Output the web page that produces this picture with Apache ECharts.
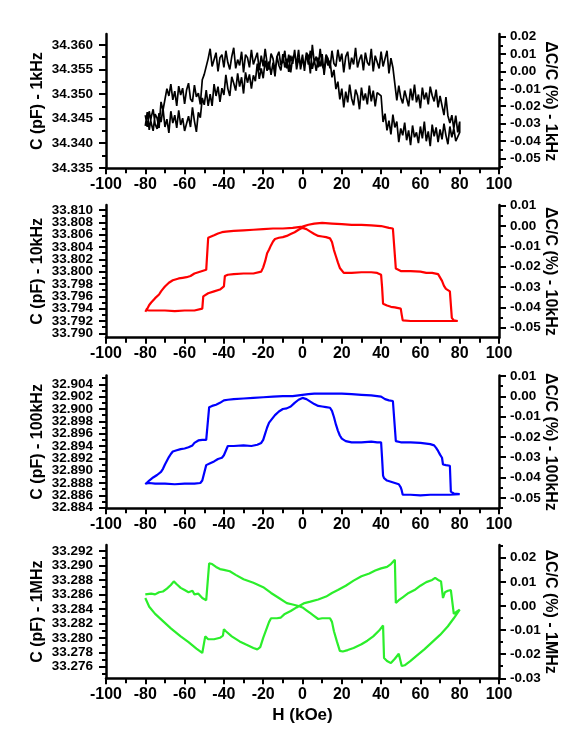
<!DOCTYPE html>
<html><head><meta charset="utf-8">
<script src="https://cdn.jsdelivr.net/npm/echarts@6/dist/echarts.min.js"></script>
<style>html,body{margin:0;padding:0;background:#fff}#c{width:568px;height:734px}</style>
</head><body><div id="c"></div>
<script>
// ---------------- DATA ----------------
const hBlack = [-80,-79,-78,-77,-76,-75,-74,-73,-72,-71,-70,-69,-68,-67,-66,-65,-64,-63,-62,-61,-60,-59,-58,-57,-56,-55,-54,-53,-52,-51,-50,-49,-48,-47,-46,-45,-44,-43,-42,-41,-40,-39,-38,-37,-36,-35,-34,-33,-32,-31,-30,-29,-28,-27,-26,-25,-24,-23,-22,-21,-20,-19,-18,-17,-16,-15,-14,-13,-12,-11,-10,-9,-8,-7,-6,-5,-4,-3,-2,-1,0,1,2,3,4,5,6,7,8,9,10,11,12,13,14,15,16,17,18,19,20,21,22,23,24,25,26,27,28,29,30,31,32,33,34,35,36,37,38,39,40,41,42,43,44,45,46,47,48,49,50,51,52,53,54,55,56,57,58,59,60,61,62,63,64,65,66,67,68,69,70,71,72,73,74,75,76,77,78,79,80];
const cBlackOuter = [34.3457,34.3433,34.3465,34.3441,34.3425,34.3459,34.3451,34.3431,34.3484,34.3467,
34.3470,34.3511,34.3496,34.3520,34.3488,34.3506,34.3476,34.3516,34.3498,34.3512,
34.3480,34.3508,34.3522,34.3490,34.3484,34.3518,34.3494,34.3502,34.3479,34.3529,
34.3540,34.3542,34.3572,34.3592,34.3556,34.3560,34.3584,34.3546,34.3574,34.3580,
34.3554,34.3588,34.3564,34.3550,34.3576,34.3594,34.3552,34.3570,34.3558,34.3586,
34.3544,34.3580,34.3574,34.3554,34.3590,34.3560,34.3564,34.3584,34.3548,34.3578,
34.3556,34.3592,34.3562,34.3550,34.3582,34.3572,34.3546,34.3576,34.3586,34.3558,
34.3566,34.3588,34.3552,34.3580,34.3544,34.3574,34.3582,34.3560,34.3590,34.3550,
34.3572,34.3556,34.3584,34.3578,34.3542,34.3600,34.3564,34.3576,34.3554,34.3592,
34.3558,34.3548,34.3580,34.3572,34.3552,34.3588,34.3562,34.3556,34.3590,34.3566,
34.3582,34.3544,34.3576,34.3586,34.3550,34.3574,34.3560,34.3594,34.3554,34.3570,
34.3580,34.3548,34.3584,34.3564,34.3558,34.3592,34.3546,34.3578,34.3574,34.3552,
34.3586,34.3556,34.3572,34.3588,34.3542,34.3573,34.3554,34.3554,34.3487,34.3517,
34.3493,34.3481,34.3507,34.3505,34.3475,34.3511,34.3487,34.3519,34.3483,34.3499,
34.3471,34.3513,34.3489,34.3503,34.3479,34.3515,34.3497,34.3485,34.3509,34.3473,
34.3496,34.3497,34.3457,34.3494,34.3456,34.3441,34.3457,34.3430,34.3456,34.3422,
34.3444];
const cBlackInner = [34.3435,34.3463,34.3427,34.3453,34.3469,34.3439,34.3429,34.3461,34.3443,34.3471,
34.3433,34.3449,34.3421,34.3465,34.3441,34.3457,34.3431,34.3467,34.3437,34.3451,
34.3425,34.3459,34.3455,34.3433,34.3473,34.3445,34.3423,34.3463,34.3452,34.3492,
34.3478,34.3508,34.3476,34.3500,34.3476,34.3520,34.3496,34.3515,34.3484,34.3512,
34.3498,34.3539,34.3511,34.3496,34.3535,34.3522,34.3507,34.3542,34.3515,34.3534,
34.3501,34.3544,34.3523,34.3540,34.3511,34.3538,34.3526,34.3562,34.3531,34.3552,
34.3532,34.3568,34.3547,34.3566,34.3539,34.3564,34.3536,34.3577,34.3558,34.3548,
34.3581,34.3554,34.3572,34.3545,34.3578,34.3561,34.3590,34.3550,34.3573,34.3557,
34.3580,34.3547,34.3583,34.3560,34.3588,34.3551,34.3569,34.3547,34.3574,34.3556,
34.3581,34.3539,34.3574,34.3558,34.3568,34.3534,34.3549,34.3510,34.3525,34.3489,
34.3511,34.3473,34.3505,34.3483,34.3519,34.3491,34.3477,34.3509,34.3497,34.3469,
34.3513,34.3487,34.3501,34.3479,34.3517,34.3485,34.3507,34.3475,34.3503,34.3493,
34.3496,34.3443,34.3460,34.3426,34.3446,34.3418,34.3458,34.3432,34.3444,34.3402,
34.3430,34.3416,34.3442,34.3406,34.3426,34.3396,34.3436,34.3412,34.3422,34.3400,
34.3434,34.3410,34.3444,34.3404,34.3424,34.3394,34.3438,34.3414,34.3432,34.3402,
34.3428,34.3408,34.3440,34.3416,34.3398,34.3434,34.3412,34.3430,34.3404,34.3426,
34.3422];

const hRedOuter = [-80,-79,-78,-77,-76,-75,-74,-73,-72,-71,-70,-69,-68,-67,-66,-65,-63,-61,-59,-57,-55,-53,-51,-49,-48.5,-48,-47,-45,-43,-41,-39,-35,-30,-25,-20,-15,-10,-5,0,3,6,10,15,20,25,30,35,40,44,46,47,47.5,50,55,60,63,66,69,70,71,72,73,74,75,75.5,76,77,78,79,80];
const cRedOuter = [33.7935,33.7940,33.7946,33.7950,33.7952,33.7957,33.7960,33.7963,33.7968,33.7972,33.7976,33.7979,33.7982,33.7983,33.7986,33.7988,33.7989,33.7990,33.7991,33.7993,33.7997,33.7999,33.8001,33.8003,33.8003,33.8055,33.8057,33.8059,33.8062,33.8064,33.8065,33.8066,33.8067,33.8068,33.8069,33.8070,33.8070,33.8071,33.8073,33.8076,33.8078,33.8079,33.8078,33.8077,33.8076,33.8076,33.8075,33.8074,33.8071,33.8070,33.8068,33.8005,33.8001,33.8001,33.8000,33.7998,33.7998,33.7996,33.7993,33.7985,33.7977,33.7972,33.7970,33.7968,33.7966,33.7925,33.7921,33.7921,33.7920,33.7920];
const hRedInner = [80,75,70,65,60,55,51,50.5,50,49,47,45,43,41,40.5,40,38,35,30,25,21,20,19,18,17,16,15,14,12,10,8,6,4,2,0,-2,-4,-6,-8,-10,-12,-14,-15,-16,-17,-18,-19,-20,-21,-22,-25,-30,-35,-38,-39.5,-40,-42,-45,-48,-50.5,-51,-52,-55,-60,-65,-70,-75,-78,-80];
const cRedInner = [33.7918,33.7920,33.7920,33.7920,33.7920,33.7920,33.7921,33.7930,33.7940,33.7942,33.7942,33.7943,33.7945,33.7948,33.7975,33.7995,33.7998,33.7999,33.7999,33.7998,33.7998,33.8000,33.8006,33.8015,33.8025,33.8035,33.8048,33.8054,33.8056,33.8057,33.8058,33.8061,33.8065,33.8069,33.8071,33.8068,33.8064,33.8061,33.8058,33.8056,33.8055,33.8053,33.8049,33.8043,33.8036,33.8030,33.8017,33.8007,33.8000,33.7998,33.7997,33.7997,33.7996,33.7995,33.7993,33.7976,33.7971,33.7968,33.7965,33.7960,33.7940,33.7938,33.7937,33.7937,33.7936,33.7937,33.7937,33.7937,33.7938];

const hBlueOuter = [-80,-79,-78,-77,-76,-74,-73,-72,-71,-70,-69,-68,-67,-66,-64,-62,-60,-58,-56,-55,-53,-51,-49,-48,-47.5,-46,-44,-42,-40,-38,-35,-30,-25,-20,-15,-10,-5,0,3,6,10,15,20,25,30,35,40,42,44,46,47,47.5,50,55,60,65,67,68,69,70,71,71.5,73,75,75.5,77,80];
const cBlueOuter = [32.8878,32.8880,32.8884,32.8887,32.8889,32.8893,32.8895,32.8898,32.8903,32.8910,32.8916,32.8922,32.8927,32.8931,32.8933,32.8935,32.8936,32.8938,32.8941,32.8945,32.8949,32.8950,32.8950,32.8951,32.9003,32.9005,32.9007,32.9010,32.9014,32.9015,32.9016,32.9017,32.9018,32.9019,32.9020,32.9021,32.9021,32.9023,32.9024,32.9025,32.9025,32.9025,32.9025,32.9024,32.9023,32.9022,32.9020,32.9016,32.9014,32.9013,32.9012,32.8948,32.8946,32.8946,32.8945,32.8943,32.8941,32.8937,32.8932,32.8926,32.8921,32.8910,32.8909,32.8908,32.8866,32.8863,32.8862];
const hBlueInner = [80,75,70,65,60,55,51,50.5,50,49,47,45,43,41.5,41,40.5,40,38,35,30,25,22,20,19,18,17,16,15,14,12,10,8,6,4,2,0,-2,-4,-6,-8,-10,-12,-14,-15,-16,-17,-18,-19,-20,-21,-23,-26,-30,-35,-38,-39,-40,-41,-43,-45,-47,-49,-50,-51,-52,-55,-60,-65,-70,-75,-78,-80];
const cBlueInner = [32.8860,32.8861,32.8861,32.8861,32.8860,32.8861,32.8861,32.8868,32.8873,32.8878,32.8880,32.8882,32.8884,32.8888,32.8892,32.8920,32.8946,32.8946,32.8947,32.8946,32.8946,32.8948,32.8952,32.8957,32.8965,32.8975,32.8987,32.8997,32.9002,32.9003,32.9004,32.9005,32.9008,32.9012,32.9016,32.9018,32.9015,32.9010,32.9004,32.9001,32.9000,32.8996,32.8990,32.8986,32.8982,32.8978,32.8970,32.8960,32.8950,32.8945,32.8942,32.8940,32.8941,32.8940,32.8940,32.8938,32.8925,32.8921,32.8919,32.8915,32.8912,32.8909,32.8906,32.8884,32.8880,32.8879,32.8879,32.8878,32.8879,32.8879,32.8880,32.8879];

const hGreenA = [-80,-77,-75,-73,-71,-69,-67,-65.5,-64,-62,-60,-58,-56,-55,-53,-51,-49,-48,-47.5,-46,-44,-42,-40,-39,-37,-34,-30,-25,-20,-16,-12,-8,-5,-2,0,2,4,6,8,10,12,14,15,16,17.5,19,20.5,23,26,30,33,36,39,41,41.5,43,45,47,49,50,50.5,52,55,58,62,66,70,74,77,80];
const cGreenA = [33.2860,33.2861,33.2860,33.2863,33.2864,33.2868,33.2873,33.2878,33.2874,33.2869,33.2866,33.2863,33.2865,33.2860,33.2861,33.2855,33.2852,33.2850,33.2903,33.2902,33.2898,33.2895,33.2894,33.2896,33.2892,33.2887,33.2881,33.2876,33.2870,33.2862,33.2855,33.2848,33.2846,33.2844,33.2842,33.2838,33.2834,33.2830,33.2826,33.2827,33.2827,33.2827,33.2822,33.2809,33.2795,33.2782,33.2781,33.2783,33.2786,33.2791,33.2796,33.2802,33.2810,33.2817,33.2772,33.2768,33.2765,33.2771,33.2778,33.2779,33.2761,33.2762,33.2768,33.2775,33.2784,33.2794,33.2804,33.2816,33.2827,33.2839];
const hGreenB = [80,78.5,77,76,75.5,74,72.5,71.5,71,70.5,69,67.5,66,63,60,57,54,51,49,47.5,47,45,43,40,37,34,30,26,22,18,15,12,8,4,1,-1,-3,-6,-9,-11,-13,-14,-16,-17,-18.5,-20,-21.5,-23,-25,-29,-32,-36,-39,-40,-40.5,-42,-45,-48,-49.5,-50.5,-51,-54,-58,-62,-67,-71,-75,-78,-80];
const cGreenB = [33.2840,33.2836,33.2833,33.2832,33.2866,33.2865,33.2863,33.2855,33.2856,33.2878,33.2880,33.2883,33.2880,33.2877,33.2872,33.2866,33.2862,33.2856,33.2852,33.2848,33.2908,33.2902,33.2898,33.2896,33.2893,33.2889,33.2885,33.2879,33.2872,33.2866,33.2862,33.2857,33.2853,33.2850,33.2848,33.2845,33.2842,33.2837,33.2833,33.2828,33.2827,33.2828,33.2827,33.2822,33.2811,33.2800,33.2787,33.2784,33.2786,33.2791,33.2795,33.2802,33.2809,33.2812,33.2803,33.2800,33.2798,33.2798,33.2802,33.2804,33.2779,33.2785,33.2794,33.2802,33.2813,33.2823,33.2833,33.2843,33.2855];

// tick labels / tick positions
const p1LeftMajor = [34.335,34.340,34.345,34.350,34.355,34.360];
const p1LeftMinor = [34.3375,34.3425,34.3475,34.3525,34.3575];
const p1RightMajor = [-0.05,-0.04,-0.03,-0.02,-0.01,0,0.01,0.02];
const p1RightMinor = [-0.055,-0.045,-0.035,-0.025,-0.015,-0.005,0.005,0.015];
const p2LeftMajor = [33.790,33.792,33.794,33.796,33.798,33.800,33.802,33.804,33.806,33.808,33.810];
const p2LeftMinor = [33.791,33.793,33.795,33.797,33.799,33.801,33.803,33.805,33.807,33.809];
const p2RightMajor = [-0.05,-0.04,-0.03,-0.02,-0.01,0,0.01];
const p2RightMinor = [-0.045,-0.035,-0.025,-0.015,-0.005,0.005];
const p3LeftMajor = [32.884,32.886,32.888,32.890,32.892,32.894,32.896,32.898,32.900,32.902,32.904];
const p3LeftMinor = [32.885,32.887,32.889,32.891,32.893,32.895,32.897,32.899,32.901,32.903,32.905];
const p3RightMajor = [-0.05,-0.04,-0.03,-0.02,-0.01,0,0.01];
const p3RightMinor = [-0.055,-0.045,-0.035,-0.025,-0.015,-0.005,0.005];
const p4LeftMajor = [33.276,33.278,33.280,33.282,33.284,33.286,33.288,33.290,33.292];
const p4LeftMinor = [33.275,33.277,33.279,33.281,33.283,33.285,33.287,33.289,33.291];
const p4RightMajor = [-0.03,-0.02,-0.01,0,0.01,0.02];
const p4RightMinor = [-0.025,-0.015,-0.005,0.005,0.015,0.025];

const leftNames = ['C (pF) - 1kHz','C (pF) - 10kHz','C (pF) - 100kHz','C (pF) - 1MHz'];
const rightNames = ['\u0394C/C (%) - 1kHz','\u0394C/C (%) - 10kHz','\u0394C/C (%) - 100kHz','\u0394C/C (%) - 1MHz'];
const xName = 'H (kOe)';

// ---------------- BUILD ----------------
function zip(h, c){ return h.map((v,i)=>[v,c[i]]); }
const loop1 = zip(hBlack, cBlackOuter).concat(zip(hBlack, cBlackInner).reverse());
const loop2 = zip(hRedOuter, cRedOuter).concat(zip(hRedInner, cRedInner));
const loop3 = zip(hBlueOuter, cBlueOuter).concat(zip(hBlueInner, cBlueInner));
const loop4 = zip(hGreenA, cGreenA).concat(zip(hGreenB, cGreenB));

const FONT = '"Liberation Sans", Arial, Helvetica, sans-serif';
const panels = [
  {top:34, height:134.3, yL:[34.3349,34.3622], yR:[-0.05576,0.02155], lMaj:p1LeftMajor, lMin:p1LeftMinor, rMaj:p1RightMajor, rMin:p1RightMinor, color:'#000000', lw:1.7, data:loop1},
  {top:205, height:132.7, yL:[33.78929,33.81081], yR:[-0.05492,0.01034], lMaj:p2LeftMajor, lMin:p2LeftMinor, rMaj:p2RightMajor, rMin:p2RightMinor, color:'#ff0000', lw:2.2, data:loop2},
  {top:375.5, height:132.8, yL:[32.8839,32.90543], yR:[-0.05518,0.01024], lMaj:p3LeftMajor, lMin:p3LeftMinor, rMaj:p3RightMajor, rMin:p3RightMinor, color:'#0000ff', lw:2.2, data:loop3},
  {top:545, height:133.3, yL:[33.2744,33.29283], yR:[-0.03,0.02527], lMaj:p4LeftMajor, lMin:p4LeftMinor, rMaj:p4RightMajor, rMin:p4RightMinor, color:'#2bee2b', lw:2.2, data:loop4}
];

const grid=[], xAxis=[], yAxis=[], series=[];
const black = '#000';
const labelStyle = {fontFamily:FONT, fontWeight:'bold', fontSize:13.5, color:black, showMinLabel:true, showMaxLabel:true, hideOverlap:false};
panels.forEach((p,i)=>{
  grid.push({left:106, width:393, top:p.top, height:p.height, containLabel:false, outerBoundsMode:'none'});
  xAxis.push({
    type:'value', gridIndex:i, min:-100, max:100, interval:20,
    name: i===3 ? xName : '', nameLocation:'middle', nameGap:29,
    nameTextStyle:{fontFamily:FONT, fontWeight:'bold', fontSize:17, color:black},
    axisLine:{onZero:false, lineStyle:{color:black, width:2.5}},
    axisTick:{inside:false, length:6, lineStyle:{color:black, width:2}},
    minorTick:{show:true, splitNumber:2, length:5, lineStyle:{color:black, width:2}},
    axisLabel:{fontFamily:FONT, fontWeight:'bold', fontSize:16, color:black, margin:8, showMinLabel:true, showMaxLabel:true},
    splitLine:{show:false}, minorSplitLine:{show:false}
  });
  const base = {type:'value', gridIndex:i, scale:true, splitLine:{show:false}};
  const evenL = p.lMaj.filter((v,k)=>k%2===0), oddL = p.lMaj.filter((v,k)=>k%2===1);
  yAxis.push(Object.assign({}, base, {
    position:'left', min:p.yL[0], max:p.yL[1],
    name:leftNames[i], nameLocation:'middle', nameRotate:90, nameGap:60, nameMoveOverlap:false,
    nameTextStyle:{fontFamily:FONT, fontWeight:'bold', fontSize:16, color:black},
    axisLine:{show:true, onZero:false, lineStyle:{color:black, width:2.5}},
    axisTick:{show:true, length:7, customValues:p.lMaj, lineStyle:{color:black, width:2}},
    axisLabel:Object.assign({show:true, customValues:evenL, formatter:v=>v.toFixed(3), margin:13}, labelStyle)
  }));
  yAxis.push(Object.assign({}, base, {
    position:'right', min:p.yR[0], max:p.yR[1],
    name:rightNames[i], nameLocation:'middle', nameRotate:-90, nameGap:43, nameMoveOverlap:false,
    nameTextStyle:{fontFamily:FONT, fontWeight:'bold', fontSize:16, color:black},
    axisLine:{show:true, onZero:false, lineStyle:{color:black, width:2.5}},
    axisTick:{show:true, length:7, customValues:p.rMaj, lineStyle:{color:black, width:2}},
    axisLabel:Object.assign({show:true, customValues:p.rMaj, formatter:v=>v.toFixed(2), margin:11}, labelStyle)
  }));
  yAxis.push(Object.assign({}, base, {
    position:'left', min:p.yL[0], max:p.yL[1],
    axisLine:{show:false, onZero:false},
    axisTick:{show:true, length:4, customValues:p.lMin, lineStyle:{color:black, width:2}},
    axisLabel:Object.assign({show:oddL.length>0, customValues:oddL, formatter:v=>v.toFixed(3), margin:13}, labelStyle)
  }));
  yAxis.push(Object.assign({}, base, {
    position:'right', min:p.yR[0], max:p.yR[1],
    axisLine:{show:false, onZero:false},
    axisTick:{show:true, length:4, customValues:p.rMin, lineStyle:{color:black, width:2}},
    axisLabel:{show:false}
  }));
  series.push({
    type:'line', xAxisIndex:i, yAxisIndex:i*4, data:p.data,
    showSymbol:false, symbol:'none', smooth:false,
    lineStyle:{color:p.color, width:p.lw}, itemStyle:{color:p.color}
  });
});

const chart = echarts.init(document.getElementById('c'), null, {renderer:'canvas'});
chart.setOption({animation:false, backgroundColor:'#ffffff', grid, xAxis, yAxis, series});
</script>
</body></html>
